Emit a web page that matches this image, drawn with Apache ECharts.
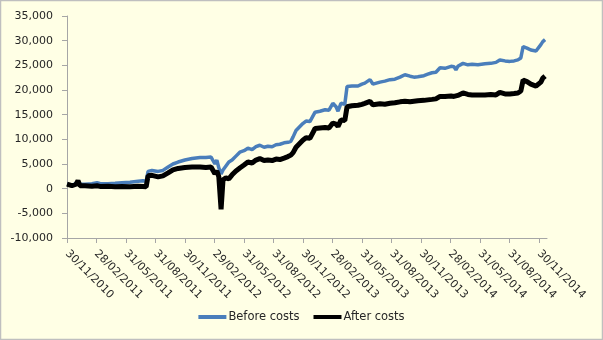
<!DOCTYPE html>
<html><head><meta charset="utf-8">
<script src="https://cdn.jsdelivr.net/npm/echarts@6/dist/echarts.min.js"></script>
<style>html,body{margin:0;padding:0;background:#FFFFE5;}#c{width:603px;height:340px;}</style>
</head><body><div id="c"></div>
<script>
// x tick labels (every 3 months, month end)
const tickLabels = ['30/11/2010','28/02/2011','31/05/2011','31/08/2011','30/11/2011','29/02/2012','31/05/2012','31/08/2012','30/11/2012','28/02/2013','31/05/2013','31/08/2013','30/11/2013','28/02/2014','31/05/2014','31/08/2014','30/11/2014'];
// day offsets from 30/11/2010 of the sampled points
const dayOffsets = [0,15,28,34,40,56,77,93,102,127,149,170,195,220,235,245,248,251,263,282,297,313,328,344,365,387,412,430,446,452,458,464,470,477,483,492,501,511,523,535,548,560,573,585,597,610,622,635,647,659,672,684,693,700,709,721,730,740,752,768,783,799,811,817,823,833,839,848,860,867,882,901,913,922,938,947,953,969,984,1000,1015,1031,1046,1062,1074,1086,1105,1117,1130,1142,1155,1170,1189,1198,1204,1210,1226,1241,1254,1272,1294,1312,1328,1340,1356,1371,1384,1396,1405,1412,1424,1436,1452,1467,1473,1480];
const beforeCosts = [900,700,1100,1500,900,900,1000,1200,1050,1000,1100,1200,1300,1500,1600,1500,1700,3500,3700,3500,3700,4400,5000,5400,5800,6100,6300,6300,6400,6300,5000,5800,4200,3000,3800,4600,5400,5800,6600,7400,7700,8200,7900,8500,8800,8400,8600,8500,8900,9000,9300,9400,9600,10500,11800,12600,13200,13700,13600,15500,15700,16000,15900,15600,17300,16600,15700,17300,17100,20700,20800,20800,21200,21400,22100,21200,21100,21600,21800,22100,22200,22600,23100,22800,22600,22700,22900,23200,23500,23600,24500,24400,24800,24700,24100,24800,25400,25100,25200,25100,25300,25400,25600,26100,25900,25800,25900,26100,26500,28800,28500,28100,27900,29200,29800,30200];
const afterCosts = [900,600,900,1600,600,600,500,600,450,500,400,450,400,500,450,400,600,2600,2700,2400,2600,3200,3800,4100,4300,4400,4400,4300,4400,4200,3000,3600,2400,-4200,1800,2200,2000,2800,3600,4200,4800,5400,5200,5800,6100,5700,5800,5700,6000,5900,6200,6500,6800,7300,8400,9200,9800,10300,10200,12200,12300,12400,12300,12200,13300,13100,12600,13900,13800,16600,16800,16900,17100,17300,17700,17000,16900,17200,17100,17300,17400,17600,17700,17600,17700,17800,17900,18000,18100,18200,18700,18700,18800,18700,18400,18900,19400,19100,19000,19000,19000,19100,19000,19500,19200,19200,19300,19400,19800,22000,21700,21200,20800,21600,22400,22800];
const seriesNames = ['Before costs','After costs'];

function dayOf(lbl){const p=lbl.split('/');return Math.round((Date.UTC(+p[2],+p[1]-1,+p[0])-Date.UTC(2010,10,30))/86400000);}
const tickDays = tickLabels.map(dayOf);
const labelByDay = {}; tickLabels.forEach((l,i)=>labelByDay[tickDays[i]]=l);
const pairs = arr => dayOffsets.map((d,i)=>[d,arr[i]]);

const chart = echarts.init(document.getElementById('c'), null, {renderer:'canvas'});
const font = 'DejaVu Sans';
chart.setOption({
  backgroundColor:'#FFFFE5',
  animation:false,
  grid:{left:67,right:56,top:16,bottom:102,containLabel:false},
  xAxis:{type:'value',min:0,max:1486,
    axisLine:{onZero:false,lineStyle:{color:'#A6A6A6',width:1}},
    axisTick:{show:true,length:5,lineStyle:{color:'#A6A6A6'},customValues:tickDays},
    axisLabel:{customValues:tickDays,rotate:-45,margin:14,color:'#262626',fontFamily:font,fontSize:11,
      formatter:v=>labelByDay[Math.round(v)]||''},
    splitLine:{show:false}},
  yAxis:{type:'value',min:-10000,max:35000,interval:5000,
    axisLine:{show:true,lineStyle:{color:'#A6A6A6',width:1}},
    axisTick:{show:true,length:5,lineStyle:{color:'#A6A6A6'}},
    axisLabel:{margin:14,color:'#262626',fontFamily:font,fontSize:11,formatter:v=>v.toLocaleString('en-US')},
    splitLine:{show:false}},
  legend:{bottom:12,left:'center',itemWidth:28,itemHeight:4,itemGap:14,icon:'rect',
    textStyle:{fontFamily:font,fontSize:11.5,color:'#262626',padding:[0,0,0,-3]},
    data:seriesNames},
  series:[
    {name:seriesNames[0],type:'line',data:pairs(beforeCosts),showSymbol:false,symbol:'none',
      lineStyle:{color:'#4A7EBB',width:3.5},itemStyle:{color:'#4A7EBB'}},
    {name:seriesNames[1],type:'line',data:pairs(afterCosts),showSymbol:false,symbol:'none',
      lineStyle:{color:'#000000',width:5},itemStyle:{color:'#000000'}}
  ],
  graphic:[{type:'rect',shape:{x:0.5,y:0.5,width:602,height:339},style:{fill:null,stroke:'#BFBFBF',lineWidth:1.5},silent:true}]
});
</script></body></html>
